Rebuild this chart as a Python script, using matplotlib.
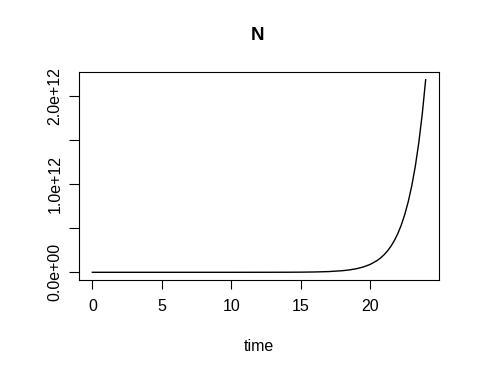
import matplotlib
matplotlib.use("Agg")
import matplotlib.pyplot as plt

# population N over time (units of 1e12)
time = [0, 2, 4, 6, 8, 10, 12, 14, 15, 16, 17, 18, 18.5, 19, 19.5, 20,
        20.5, 20.75, 21, 21.25, 21.5, 21.75, 22, 22.25, 22.5, 22.75,
        23, 23.25, 23.5, 23.75, 24]
N = [0.0, 0.0, 0.0, 0.0, 0.00001, 0.00003, 0.00015, 0.00073, 0.0016, 0.0036,
     0.0081, 0.0179, 0.0268, 0.0399, 0.0596, 0.0889,
     0.1326, 0.1619, 0.1978, 0.2416, 0.2950, 0.3603, 0.4401, 0.5376, 0.6566, 0.8020,
     0.9795, 1.1964, 1.4613, 1.7848, 2.1800]

x_ticks = [0, 5, 10, 15, 20]
y_ticks = [0, 0.5, 1.0, 1.5, 2.0]
y_labels = ["0.0e+00", "", "1.0e+12", "", "2.0e+12"]

plt.rcParams["font.family"] = ["Liberation Sans", "DejaVu Sans"]

fig = plt.figure(figsize=(4.8, 3.73), dpi=100)
ax = fig.add_axes([79 / 480, 1 - 280 / 373, 360 / 480, 208 / 373])

ax.plot(time, N, color="black", lw=1.0)

xr = max(time) - min(time)
ax.set_xlim(min(time) - 0.04 * xr, max(time) + 0.04 * xr)
yr = max(N) - min(N)
ax.set_ylim(min(N) - 0.04 * yr, max(N) + 0.04 * yr)

ax.set_xticks(x_ticks)
ax.set_xticklabels([str(t) for t in x_ticks])
ax.set_yticks(y_ticks)
ax.set_yticklabels(y_labels, rotation=90, va="center")

ax.tick_params(axis="x", direction="out", length=6.5, width=0.8, pad=7,
               labelsize=11.5, color="black")
ax.tick_params(axis="y", direction="out", length=7, width=0.8, pad=5,
               labelsize=11.5, color="black")
for s in ax.spines.values():
    s.set_linewidth(0.8)
    s.set_color("black")

ax.set_xlabel("time", fontsize=11.5, labelpad=18)
fig.text(258 / 480, 1 - 35 / 373, "N", ha="center", va="center",
         fontsize=13.5, fontweight="bold")

fig.savefig("out.png", dpi=100)
